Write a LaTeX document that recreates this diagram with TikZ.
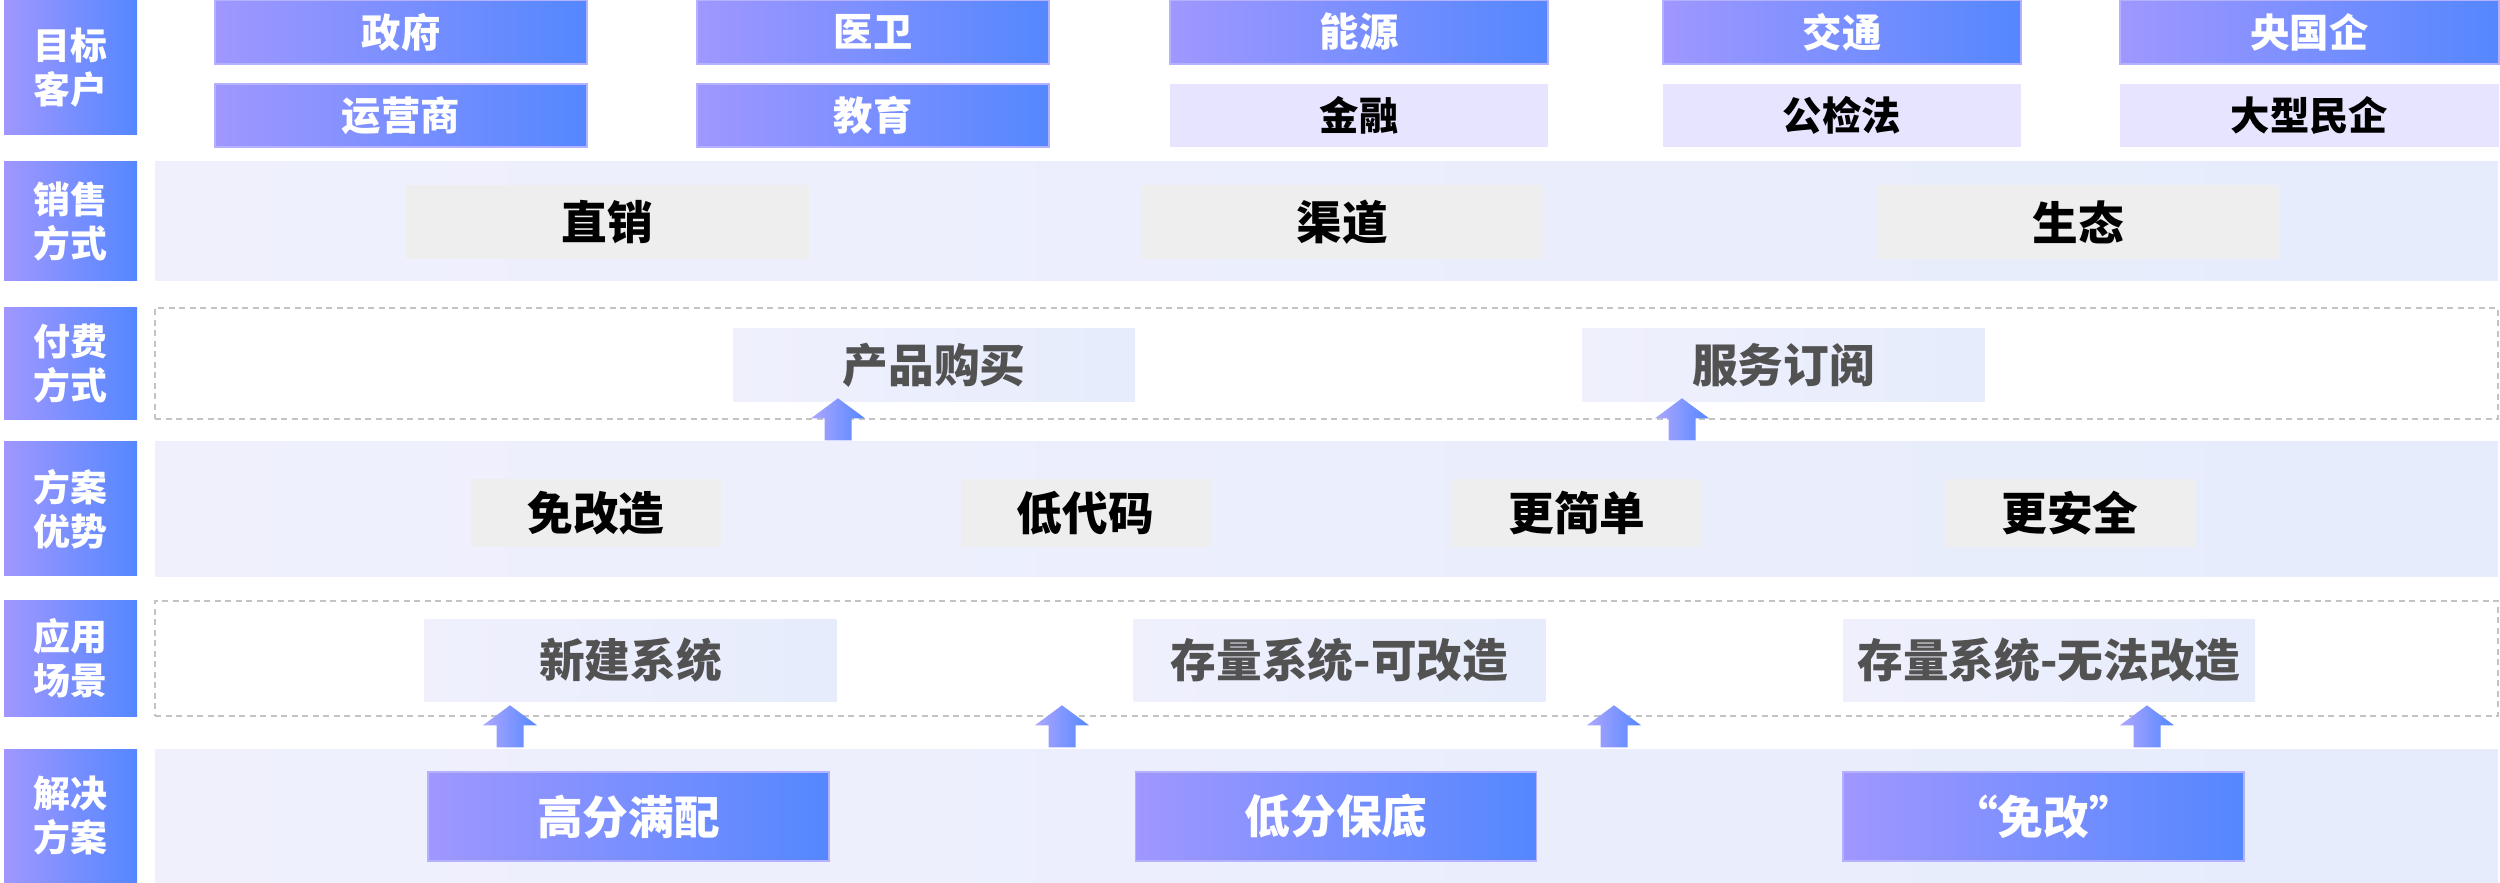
\documentclass[tikz,border=0pt]{standalone}
\usepackage{fontspec}
\newfontfamily\cjk{Noto Sans CJK SC}
\usetikzlibrary{positioning,calc}
\definecolor{TierPurple}{RGB}{160,151,255}
\definecolor{TierBlue}{RGB}{84,135,255}
\definecolor{TierEdge}{RGB}{180,178,255}
\definecolor{PaleLilac}{RGB}{230,228,254}
\definecolor{BandLeft}{RGB}{240,240,253}
\definecolor{BandRight}{RGB}{230,236,252}
\definecolor{CardGray}{RGB}{238,238,238}
\definecolor{InkGray}{RGB}{82,82,82}
\definecolor{FrameGray}{RGB}{195,195,195}

\tikzset{
  tier/.style={left color=TierPurple,right color=TierBlue,draw=TierEdge,
    line width=0.12mm,text=white,inner sep=0pt},
  pale/.style={fill=PaleLilac,text=black,inner sep=0pt},
  band/.style={left color=BandLeft,right color=BandRight,inner sep=0pt,
    minimum width=234.3mm},
  frame/.style={draw=FrameGray,line width=0.15mm,dash pattern=on 0.6mm off 0.45mm,
    inner sep=0pt,minimum width=234.3mm},
  graycard/.style={fill=CardGray,text=black,inner sep=0pt},
  litecard/.style={left color=BandLeft,right color=BandRight,text=InkGray,inner sep=0pt},
  sidelab/.style={tier,draw=none,align=center,minimum width=13.3mm,
    font={\cjk\bfseries\fontsize{10.5}{12.5}\selectfont}},
  toptxt/.style={font={\cjk\bfseries\fontsize{11.2}{13}\selectfont}},
  maintxt/.style={font={\cjk\bfseries\fontsize{13}{15}\selectfont}},
  liftarr/.style={left color=TierPurple!85!white,right color=TierBlue}
}

\begin{document}
\begin{tikzpicture}[x=0.1mm,y=-0.1mm]
\useasboundingbox (0,0) rectangle (2500,883);

% side labels
\foreach \n/\y/\h/\t in {lab1/67.5/135/{目标\\客户}, lab2/221.5/119/{销售\\方式},
  lab3/364/112/{付费\\方式}, lab4/509/134/{方案\\优势},
  lab5/658.5/115/{应用\\场景}, lab6/816/134/{解决\\方案}}
  \node[sidelab,minimum height=\h*0.1mm] (\n) at (70.5,\y) {\t};

% bands and frames
\node[band,minimum height=11.9mm] (sellband) at (1326.5,221.5) {};
\node[frame,minimum height=11.1mm] (payframe) at (1326.5,363.5) {};
\node[band,minimum height=13.5mm] (gainband) at (1326.5,509.5) {};
\node[frame,minimum height=11.5mm] (useframe) at (1326.5,658.5) {};
\node[band,minimum height=13.4mm] (solband) at (1326.5,816) {};

% target customers
\foreach \n/\x/\w/\t in {gov/401/372/政府, med/873/352/医卫, ene/1359/378/能源,
  tra/1842/358/交通, soe/2309.5/379/央国企}
  \node[tier,toptxt,minimum width=\w*0.1mm,minimum height=6.4mm] (\n) at (\x,32) {\t};
\foreach \n/\x/\w/\s/\t in {opr/401/372/tier/运营商, edu/873/352/tier/教育,
  fin/1359/378/pale/金融, law/1842/358/pale/公检法, pri/2309.5/379/pale/大型民企}
  \node[\s,toptxt,minimum width=\w*0.1mm,minimum height=6.3mm] (\n) at (\x,115.5) {\t};

% sales
\foreach \n/\x/\t in {direct/607/直销, channel/1342.5/渠道, eco/2078/生态}
  \node[graycard,maintxt,minimum width=40.3mm,minimum height=7.4mm] (\n) at (\x,222) {\t};

% payment
\foreach \n/\x/\t in {buy/934/产品购买, sub/1783.5/服务订阅}
  \node[litecard,maintxt,minimum width=40.2mm,minimum height=7.3mm] (\n) at (\x,365.5) {\t};

% advantages
\foreach \n/\x/\t in {nofix/596/免改造, lowcode/1085.5/低代码, simple/1577/更简单, safe/2070/更安全}
  \node[graycard,maintxt,minimum width=25mm,minimum height=6.8mm] (\n) at (\x,513) {\t};

% scenarios
\foreach \n/\x/\t in {newsys/630.5/新建系统, oldfix/1339.5/存量系统-可改造, oldkeep/2049/存量系统-无法改造}
  \node[litecard,maintxt,minimum width=41.2mm,minimum height=8.2mm] (\n) at (\x,660) {\t};

% solutions
\foreach \n/\x/\t in {full/628.5/高分满配, base/1336/低分保底, free/2043.5/“免改”}
  \node[tier,maintxt,minimum width=40.1mm,minimum height=8.9mm] (\n) at (\x,816.5) {\t};

% arrows
\coordinate (u1) at (838,0 |- gainband.north);
\coordinate (u2) at (1682,0 |- gainband.north);
\coordinate (v1) at (510,0 |- solband.north);
\coordinate (v2) at (1062,0 |- solband.north);
\coordinate (v3) at (1614,0 |- solband.north);
\coordinate (v4) at (2147,0 |- solband.north);
\foreach \c in {u1,u2,v1,v2,v3,v4}
  \shade[liftarr] ($(\c)+(-13.5,-1)$) -- ++(0,-22) -- ++(-13.5,0) -- ++(27,-20)
    -- ++(27,20) -- ++(-13.5,0) -- ++(0,22) -- cycle;
\end{tikzpicture}
\end{document}
